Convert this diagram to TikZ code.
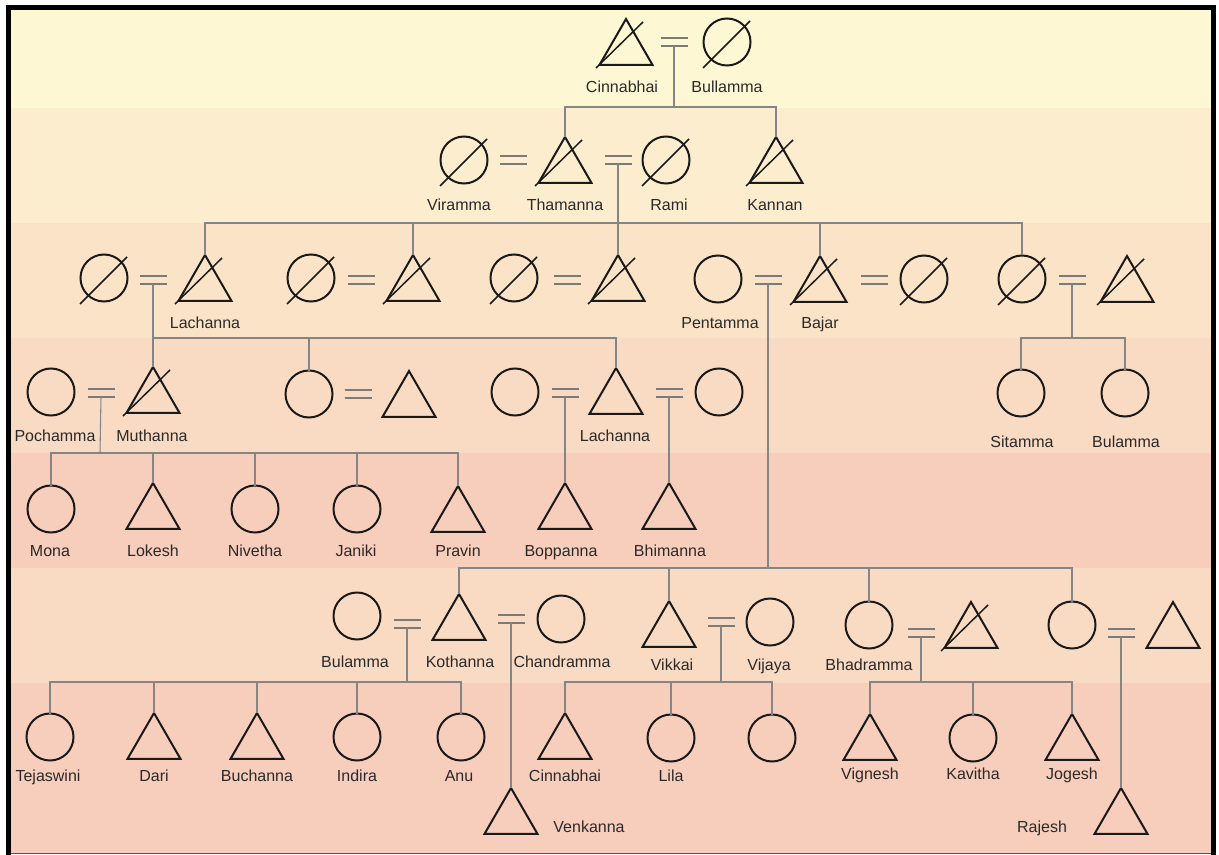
\documentclass[tikz,border=0pt]{standalone}
\usepackage{fontspec}
\setmainfont{Liberation Sans}
\usetikzlibrary{shapes.geometric}

% generation bands, from top to bottom
\definecolor{bandA}{HTML}{FEF7D3}
\definecolor{bandB}{HTML}{FCEDCF}
\definecolor{bandC}{HTML}{FBE3C8}
\definecolor{bandD}{HTML}{F9DAC3}
\definecolor{bandE}{HTML}{F7CDBB}
\definecolor{bandF}{HTML}{F9DAC3}
\definecolor{bandG}{HTML}{F7CDBC}
\definecolor{symb}{HTML}{1A1A1A}
\definecolor{connc}{HTML}{858585}
\definecolor{eqc}{HTML}{7A7A7A}
\definecolor{txt}{HTML}{2A2A2A}
\definecolor{edge}{HTML}{555555}

\tikzset{
  fnode/.style={circle, draw=symb, line width=1.5pt, minimum size=35.25pt,
    inner sep=0pt, outer sep=0pt},
  mnode/.style={regular polygon, regular polygon sides=3, draw=symb,
    line width=1.5pt, minimum size=45.9pt, inner sep=0pt, outer sep=0pt,
    anchor=north},
  slash/.style={draw=symb, line width=1.1pt},
  conn/.style={draw=connc, line width=0.8pt},
  eqbar/.style={draw=eqc, line width=1.4pt},
  lbl/.style={font=\fontsize{12}{14}\selectfont, text=txt, inner sep=0pt,
    anchor=base},
}

% deceased marks: a stroke through the symbol
\newcommand\deadf[1]{\draw[slash] ([shift={(-24,26)}]#1.center) -- ([shift={(23,-21)}]#1.center);}
\newcommand\deadm[1]{\draw[slash] ([shift={(-30,49)}]#1.north) -- ([shift={(17,3)}]#1.north);}
% marriage sign; the named point is the middle of the lower bar
\newcommand\wed[3]{\coordinate (#1) at (#2,#3);
  \draw[eqbar] ([shift={(-13.5,0)}]#1) -- ([shift={(13.5,0)}]#1)
               ([shift={(-13.5,-8)}]#1) -- ([shift={(13.5,-8)}]#1);}

\begin{document}
\begin{tikzpicture}[x=0.75pt, y=-0.75pt]
\useasboundingbox (0,0) rectangle (1219,855);
\fill[white] (0,0) rectangle (1219,855);

% background bands
\fill[bandA] (11,10)  rectangle (1211,108);
\fill[bandB] (11,108) rectangle (1211,223);
\fill[bandC] (11,223) rectangle (1211,338);
\fill[bandD] (11,338) rectangle (1211,453);
\fill[bandE] (11,453) rectangle (1211,568);
\fill[bandF] (11,568) rectangle (1211,683);
\fill[bandG] (11,683) rectangle (1211,853);

% frame
\draw[black, line width=3.75pt] (6,7.5) -- (1216,7.5);
\draw[black, line width=3.75pt] (8.5,5) -- (8.5,855);
\draw[black, line width=3.75pt] (1213.5,5) -- (1213.5,855);
\draw[edge, line width=1.1pt] (11,853.5) -- (1211,853.5);

% ---------- generation 1
\node[mnode] (cinnabhai) at (626,19) {};   \deadm{cinnabhai}
\node[fnode] (bullamma) at (727,42) {};    \deadf{bullamma}
\wed{m1}{674}{46}
\node[lbl] (lcinnabhai) at (622,93) {Cinnabhai};
\node[lbl] (lbullamma) at (727,93) {Bullamma};

% ---------- generation 2
\node[fnode] (viramma) at (464,160) {};    \deadf{viramma}
\wed{mvt}{513}{164}
\node[mnode] (thamanna) at (565,137) {};   \deadm{thamanna}
\wed{mtr}{618}{164}
\node[fnode] (rami) at (666,160) {};       \deadf{rami}
\node[mnode] (kannan) at (776,137) {};     \deadm{kannan}
\node[lbl] (lviramma) at (459,211) {Viramma};
\node[lbl] (lthamanna) at (565,211) {Thamanna};
\node[lbl] (lrami) at (669,211) {Rami};
\node[lbl] (lkannan) at (775,211) {Kannan};

\coordinate (s1) at (674,107);
\draw[conn] (m1) -- (s1);
\draw[conn] (thamanna.north) |- (s1);
\draw[conn] (kannan.north) |- (s1);

% ---------- generation 3
\node[fnode] (wa) at (104,278) {};         \deadf{wa}
\wed{ma}{153}{284}
\node[mnode] (lachannaA) at (205,255) {};  \deadm{lachannaA}
\node[fnode] (wb) at (311,278) {};         \deadf{wb}
\wed{mb}{361}{284}
\node[mnode] (hb) at (413,255) {};         \deadm{hb}
\node[fnode] (wc) at (514,278) {};         \deadf{wc}
\wed{mc}{567}{284}
\node[mnode] (hc) at (618,255) {};         \deadm{hc}
\node[fnode] (pentamma) at (718,279) {};
\wed{md}{768}{284}
\node[mnode] (bajar) at (820,256) {};      \deadm{bajar}
\wed{md2}{874}{284}
\node[fnode] (wd2) at (924,279) {};        \deadf{wd2}
\node[fnode] (we) at (1022,279) {};        \deadf{we}
\wed{me}{1072}{284}
\node[mnode] (he) at (1127,256) {};        \deadm{he}
\node[lbl] (llachannaA) at (205,328) {Lachanna};
\node[lbl] (lpentamma) at (720,328) {Pentamma};
\node[lbl] (lbajar) at (820,328) {Bajar};

\coordinate (s3) at (618,223);
\draw[conn] (mtr) -- (s3);
\draw[conn] (lachannaA.north) |- (s3);
\draw[conn] (hb.north) |- (s3);
\draw[conn] (hc.north) -- (s3);
\draw[conn] (bajar.north) |- (s3);
\draw[conn] (we.north) |- (s3);

% ---------- generation 4
\node[fnode] (pochamma) at (51,392) {};
\wed{mp}{101}{397}
\node[mnode] (muthanna) at (153,367) {};   \deadm{muthanna}
\node[fnode] (wm) at (309,394) {};
\wed{mm}{358}{398}
\node[mnode] (hm) at (409,371) {};
\node[fnode] (wr) at (515,392) {};
\wed{mr}{565}{397}
\node[mnode] (lachannaB) at (616,368) {};
\wed{mr2}{669}{397}
\node[fnode] (wr2) at (719,392) {};
\node[fnode] (sitamma) at (1021,393) {};
\node[fnode] (bulammaA) at (1125,393) {};
\node[lbl] (lpochamma) at (55,441) {Pochamma};
\node[lbl] (lmuthanna) at (152,441) {Muthanna};
\node[lbl] (llachannaB) at (615,441) {Lachanna};
\node[lbl] (lsitamma) at (1022,447) {Sitamma};
\node[lbl] (lbulammaA) at (1126,447) {Bulamma};

\coordinate (s4) at (153,338);
\draw[conn] (ma) -- (s4);
\draw[conn] (muthanna.north) -- (s4);
\draw[conn] (wm.north) |- (s4);
\draw[conn] (lachannaB.north) |- (s4);
\coordinate (s4e) at (1072,338);
\draw[conn] (me) -- (s4e);
\draw[conn] (sitamma.north) |- (s4e);
\draw[conn] (bulammaA.north) |- (s4e);

% ---------- generation 5
\node[fnode] (mona) at (51,509) {};
\node[mnode] (lokesh) at (153,483) {};
\node[fnode] (nivetha) at (255,509) {};
\node[fnode] (janiki) at (357,509) {};
\node[mnode] (pravin) at (458,486) {};
\node[mnode] (boppanna) at (565,483) {};
\node[mnode] (bhimanna) at (669,483) {};
\node[lbl] (lmona) at (50,556) {Mona};
\node[lbl] (llokesh) at (153,556) {Lokesh};
\node[lbl] (lnivetha) at (255,556) {Nivetha};
\node[lbl] (ljaniki) at (356,556) {Janiki};
\node[lbl] (lpravin) at (458,556) {Pravin};
\node[lbl] (lboppanna) at (561,556) {Boppanna};
\node[lbl] (lbhimanna) at (670,556) {Bhimanna};

\coordinate (s5) at (100,453);
\draw[conn] (mp) -- (s5);
\draw[conn] (mona.north) |- (s5);
\draw[conn] (lokesh.north) |- (s5);
\draw[conn] (nivetha.north) |- (s5);
\draw[conn] (janiki.north) |- (s5);
\draw[conn] (pravin.north) |- (s5);
\draw[conn] (mr) -- (boppanna.north);
\draw[conn] (mr2) -- (bhimanna.north);

% ---------- generation 6
\node[fnode] (bulammaB) at (357,616) {};
\wed{mk1}{407}{628}
\node[mnode] (kothanna) at (459,594) {};
\wed{mk2}{511}{623}
\node[fnode] (chandramma) at (561,619) {};
\node[mnode] (vikkai) at (669,601) {};
\wed{mv}{721}{626}
\node[fnode] (vijaya) at (770,622) {};
\node[fnode] (bhadramma) at (869,625) {};
\wed{mbh}{921}{637}
\node[mnode] (hbh) at (971,602) {};        \deadm{hbh}
\node[fnode] (wrc) at (1072,625) {};
\wed{mrc}{1121}{637}
\node[mnode] (hrc) at (1173,602) {};
\node[lbl] (lbulammaB) at (355,667) {Bulamma};
\node[lbl] (lkothanna) at (460,667) {Kothanna};
\node[lbl] (lchandramma) at (562,667) {Chandramma};
\node[lbl] (lvikkai) at (672,670) {Vikkai};
\node[lbl] (lvijaya) at (769,670) {Vijaya};
\node[lbl] (lbhadramma) at (869,670) {Bhadramma};

\coordinate (s6) at (768,568);
\draw[conn] (md) -- (s6);
\draw[conn] (kothanna.north) |- (s6);
\draw[conn] (vikkai.north) |- (s6);
\draw[conn] (bhadramma.north) |- (s6);
\draw[conn] (wrc.north) |- (s6);

% ---------- generation 7
\node[fnode] (tejaswini) at (50,737) {};
\node[mnode] (dari) at (154,713) {};
\node[mnode] (buchanna) at (257,713) {};
\node[fnode] (indira) at (357,737) {};
\node[fnode] (anu) at (461,737) {};
\node[mnode] (venkanna) at (511,788) {};
\node[mnode] (cinnabhaiB) at (565,713) {};
\node[fnode] (lila) at (671,738) {};
\node[fnode] (unnamed) at (772,738) {};
\node[mnode] (vignesh) at (870,714) {};
\node[fnode] (kavitha) at (973,738) {};
\node[mnode] (jogesh) at (1072,714) {};
\node[mnode] (rajesh) at (1121,788) {};
\node[lbl] (ltejaswini) at (48,781) {Tejaswini};
\node[lbl] (ldari) at (154,781) {Dari};
\node[lbl] (lbuchanna) at (257,781) {Buchanna};
\node[lbl] (lindira) at (357,781) {Indira};
\node[lbl] (lanu) at (459,781) {Anu};
\node[lbl] (lcinnabhaiB) at (565,781) {Cinnabhai};
\node[lbl] (llila) at (671,781) {Lila};
\node[lbl] (lvignesh) at (870,779) {Vignesh};
\node[lbl] (lkavitha) at (973,779) {Kavitha};
\node[lbl] (ljogesh) at (1072,779) {Jogesh};
\node[lbl] (lvenkanna) at (589,832) {Venkanna};
\node[lbl] (lrajesh) at (1042,832) {Rajesh};

\coordinate (s7a) at (407,682);
\draw[conn] (mk1) -- (s7a);
\draw[conn] (tejaswini.north) |- (s7a);
\draw[conn] (dari.north) |- (s7a);
\draw[conn] (buchanna.north) |- (s7a);
\draw[conn] (indira.north) |- (s7a);
\draw[conn] (anu.north) |- (s7a);
\draw[conn] (mk2) -- (venkanna.north);
\coordinate (s7b) at (721,682);
\draw[conn] (mv) -- (s7b);
\draw[conn] (cinnabhaiB.north) |- (s7b);
\draw[conn] (lila.north) |- (s7b);
\draw[conn] (unnamed.north) |- (s7b);
\coordinate (s7c) at (921,682);
\draw[conn] (mbh) -- (s7c);
\draw[conn] (vignesh.north) |- (s7c);
\draw[conn] (kavitha.north) |- (s7c);
\draw[conn] (jogesh.north) |- (s7c);
\draw[conn] (mrc) -- (rajesh.north);
\end{tikzpicture}
\end{document}
